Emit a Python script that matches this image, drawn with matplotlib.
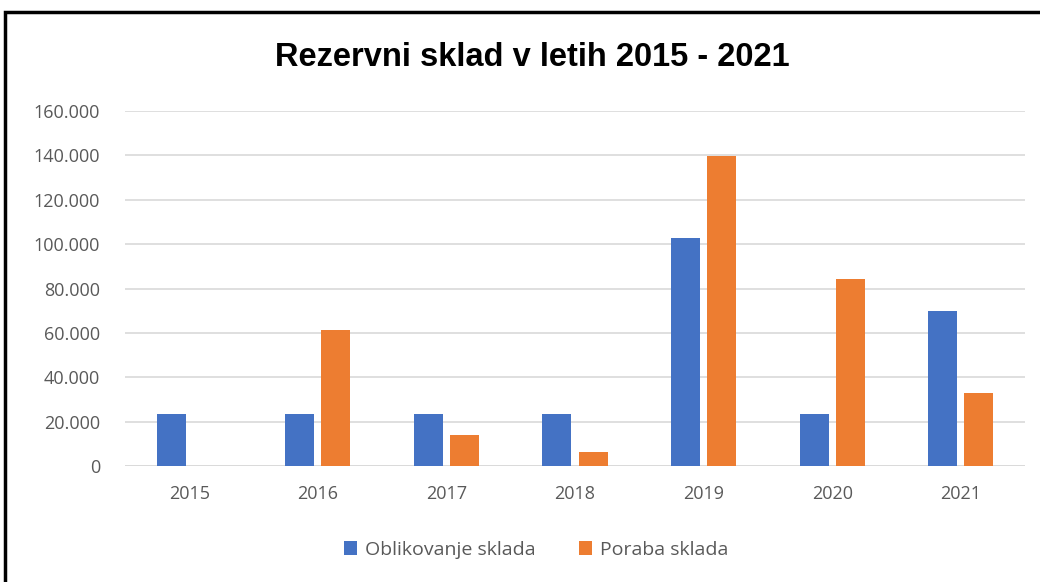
import matplotlib

matplotlib.use("Agg")
import matplotlib.pyplot as plt
import numpy as np
from matplotlib.patches import Rectangle
from matplotlib.ticker import FuncFormatter

years = ["2015", "2016", "2017", "2018", "2019", "2020", "2021"]
oblikovanje = [23400, 23400, 23400, 23400, 102600, 23400, 69700]
poraba = [0, 61300, 13900, 6200, 139800, 84300, 32800]

BLUE = "#4472C4"
ORANGE = "#ED7D31"
GRID = "#D9D9D9"
INK = "#595959"

plt.rcParams["font.family"] = ["Open Sans", "DejaVu Sans"]

fig = plt.figure(figsize=(10.4, 5.82), dpi=100, facecolor="white")
ax = fig.add_axes([125 / 1040, 1 - 466 / 582, 900 / 1040, 355 / 582])

x = np.arange(len(years))
w = 0.225
ax.bar(x - w / 2 - 0.028, oblikovanje, width=w, color=BLUE, label="Oblikovanje sklada", zorder=3)
ax.bar(x + w / 2 + 0.028, poraba, width=w, color=ORANGE, label="Poraba sklada", zorder=3)

ax.set_xlim(-0.5, len(years) - 0.5)
ax.set_ylim(0, 160000)
ax.set_yticks(np.arange(0, 160001, 20000))
ax.yaxis.set_major_formatter(
    FuncFormatter(lambda v, _: "0" if v == 0 else f"{int(v):,}".replace(",", "."))
)
ax.set_xticks(x)
ax.set_xticklabels(years)
ax.grid(axis="y", color=GRID, linewidth=1.2, zorder=0)
for s in ax.spines.values():
    s.set_visible(False)
ax.axhline(0, color=GRID, linewidth=1.2, zorder=2)
ax.tick_params(axis="both", length=0, labelsize=13, colors=INK)
ax.tick_params(axis="x", pad=14)
ax.tick_params(axis="y", pad=18)

fig.text(532 / 1040, 1 - 58 / 582, "Rezervni sklad v letih 2015 - 2021",
         ha="center", va="center", fontsize=23.5, fontweight="bold", color="black",
         family="Liberation Sans")

fig.legend(loc="center", bbox_to_anchor=(536 / 1040, 1 - 550 / 582), ncol=2,
           frameon=False, fontsize=14, labelcolor=INK, handlelength=0.7,
           handleheight=0.7, handletextpad=0.4, columnspacing=2.2)

# outer frame
fig.patches.append(Rectangle((5 / 1040, -0.01), 1.02, 1 - 12 / 582 + 0.01,
                             transform=fig.transFigure, fill=False,
                             edgecolor="black", linewidth=2.5))

fig.savefig("out.png", dpi=100, facecolor="white")
